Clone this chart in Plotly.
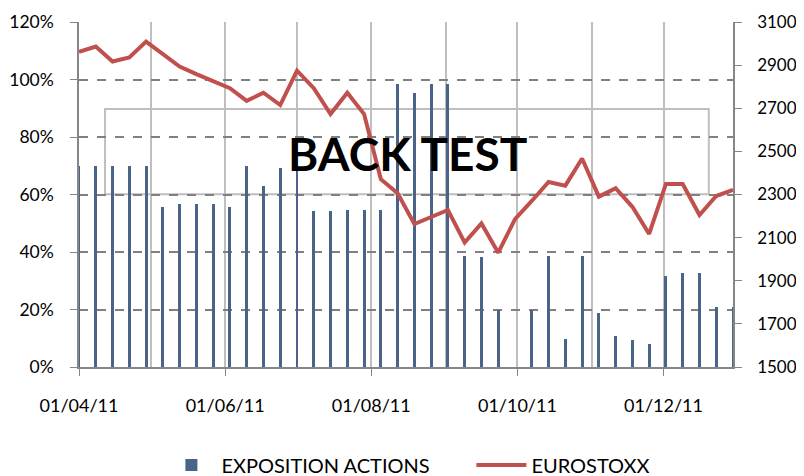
import plotly.graph_objects as go
import pandas as pd

# Weekly dates (Fridays) from 01/04/2011 to 30/12/2011
dates = pd.date_range("2011-04-01", "2011-12-30", freq="7D")

exposition = [0.70, 0.70, 0.70, 0.70, 0.70, 0.555, 0.568, 0.568, 0.568, 0.555,
              0.70, 0.63, 0.693, 0.70, 0.543, 0.543, 0.546, 0.546, 0.546, 0.984,
              0.953, 0.984, 0.984, 0.386, 0.383, 0.198, 0.0, 0.198, 0.386, 0.096,
              0.386, 0.187, 0.108, 0.094, 0.08, 0.317, 0.326, 0.326, 0.208, 0.208]

eurostoxx = [2962, 2986, 2917, 2936, 3009, 2952, 2893, 2858, 2823, 2793,
             2734, 2772, 2715, 2874, 2793, 2673, 2772, 2673, 2371, 2306,
             2163, 2196, 2228, 2077, 2166, 2030, 2186, 2270, 2358, 2341,
             2467, 2290, 2329, 2243, 2117, 2349, 2349, 2205, 2293, 2321]

tick_dates = ["2011-04-01", "2011-06-01", "2011-08-01", "2011-10-01", "2011-12-01"]
tick_labels = ["01/04/11", "01/06/11", "01/08/11", "01/10/11", "01/12/11"]
left_ticks = [0, 0.2, 0.4, 0.6, 0.8, 1.0, 1.2]
left_labels = ["0%", "20%", "40%", "60%", "80%", "100%", "120%"]
right_ticks = [1500, 1700, 1900, 2100, 2300, 2500, 2700, 2900, 3100]

FONT = "Lato, Calibri, Carlito, sans-serif"

fig = go.Figure()
fig.add_trace(go.Bar(
    x=dates, y=exposition, name="EXPOSITION ACTIONS",
    width=86400000 * 1.2,
    marker=dict(color="#4a6489", line=dict(width=0)),
    yaxis="y",
))
fig.add_trace(go.Scatter(
    x=dates, y=eurostoxx, name="EUROSTOXX", mode="lines",
    line=dict(color="#c0504d", width=4),
    yaxis="y2",
))

# page body has an 8px default margin, so the figure is sized to fit inside
fig.update_layout(
    width=796, height=468,
    margin=dict(l=71, r=71, t=14, b=109, autoexpand=False),
    plot_bgcolor="white", paper_bgcolor="white",
    font=dict(family=FONT, size=18, color="black"),
    bargap=0,
    showlegend=True,
    legend=dict(orientation="h", x=0.60, xanchor="center", y=-0.284, yanchor="middle",
                font=dict(size=20, family=FONT), itemwidth=50, entrywidth=245,
                traceorder="normal"),
    xaxis=dict(
        type="date",
        range=["2011-04-01", "2011-12-30"],
        tickmode="array", tickvals=tick_dates, ticktext=tick_labels,
        ticks="outside", ticklen=7, tickcolor="#868686", tickwidth=1,
        ticklabelstandoff=15,
        showline=True, linecolor="#868686", linewidth=1.5,
        showgrid=True, gridcolor="#bfbfbf", gridwidth=2,
        minor=dict(dtick="M1", tick0="2011-04-01", showgrid=True,
                   gridcolor="#bfbfbf", gridwidth=2),
        zeroline=False,
    ),
    yaxis=dict(
        range=[0, 1.2], tickmode="array", tickvals=left_ticks, ticktext=left_labels,
        ticks="outside", ticklen=7, tickcolor="#868686",
        showline=True, linecolor="#868686", linewidth=1.5,
        showgrid=True, gridcolor="#808080", gridwidth=1.5, griddash="dash",
        zeroline=False, ticklabelstandoff=13, tickfont=dict(size=17.5),
    ),
    yaxis2=dict(
        range=[1500, 3100], tickmode="array", tickvals=right_ticks,
        overlaying="y", side="right",
        ticks="outside", ticklen=7, tickcolor="#868686",
        showline=True, linecolor="#868686", linewidth=1.5,
        showgrid=False, zeroline=False, ticklabelstandoff=12, tickfont=dict(size=17),
    ),
    shapes=[dict(type="rect", xref="paper", yref="paper",
                 x0=0.0398, x1=0.963, y0=0.501, y1=0.748,
                 line=dict(color="#bfbfbf", width=2), fillcolor="rgba(0,0,0,0)",
                 layer="below")],
    annotations=[dict(text="<b>BACK TEST</b>", xref="paper", yref="paper",
                      x=0.502, y=0.618, xanchor="center", yanchor="middle",
                      showarrow=False, font=dict(family=FONT, size=46, color="black"))],
)

fig.write_html("out.html")
